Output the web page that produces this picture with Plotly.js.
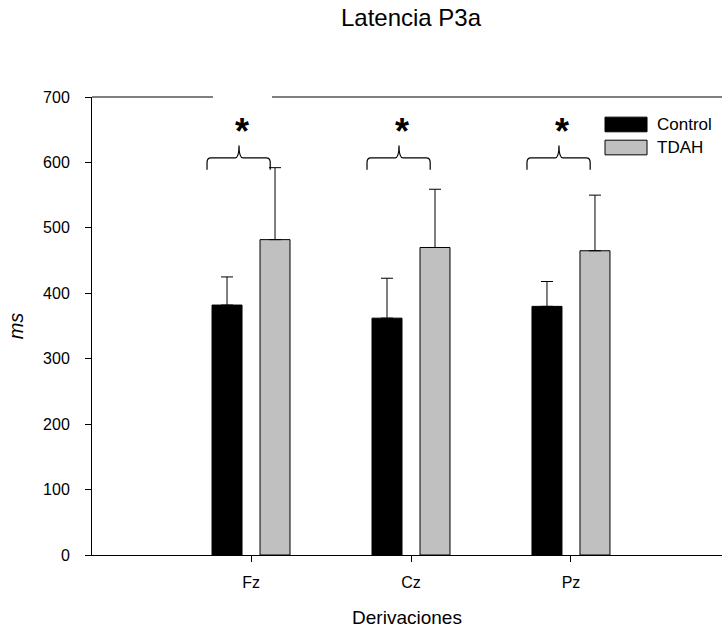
<!DOCTYPE html>
<html>
<head>
<meta charset="utf-8">
<script src="https://cdn.plot.ly/plotly-3.0.1.min.js"></script>
<style>
  html, body { margin: 0; padding: 0; background: #fff; overflow: hidden; }
  #chart { width: 722px; height: 634px; }
</style>
</head>
<body>
<div id="chart"></div>
<script>
// ---- Data ----
const categories = ['Fz', 'Cz', 'Pz'];
const seriesNames = ['Control', 'TDAH'];
const controlMeans = [382, 362, 380];
const controlErr = [43, 61, 38];
const tdahMeans = [482, 470, 465];
const tdahErr = [110, 89, 85];
const yTickVals = [0, 100, 200, 300, 400, 500, 600, 700];
const significant = [true, true, true];

// ---- Styling ----
const FONT = 'Liberation Sans, Arial, sans-serif';
const colors = ['#000000', '#c0c0c0'];

function barTrace(name, y, err, color) {
  return {
    type: 'bar',
    name: name,
    x: categories,
    y: y,
    marker: { color: color, line: { color: '#000', width: 1 } },
    error_y: {
      type: 'data', symmetric: false, array: err,
      arrayminus: err.map(() => 0),
      color: '#000', thickness: 1, width: 6
    },
    hoverinfo: 'x+y+name'
  };
}

const traces = [
  barTrace(seriesNames[0], controlMeans, controlErr, colors[0]),
  barTrace(seriesNames[1], tdahMeans, tdahErr, colors[1])
];

// significance braces (annotation marks), placed per category index
const braceEnd = 589, braceMid = 607, bracePeak = 626, starY = 647;
const shapes = [];
const annotations = [];
categories.forEach((c, i) => {
  if (!significant[i]) return;
  const xl = i - 0.275, xr = i + 0.12, xc = i - 0.075;
  const dx = 0.025, dy = 7;
  const p = `M${xl},${braceEnd} L${xl},${braceMid - dy} Q${xl},${braceMid} ${xl + dx},${braceMid}` +
            ` L${xc - dx},${braceMid} Q${xc},${braceMid} ${xc},${bracePeak}` +
            ` Q${xc},${braceMid} ${xc + dx},${braceMid} L${xr - dx},${braceMid}` +
            ` Q${xr},${braceMid} ${xr},${braceMid - dy} L${xr},${braceEnd}`;
  shapes.push({ type: 'path', xref: 'x', yref: 'y', path: p, line: { color: '#000', width: 1.2 } });
  annotations.push({
    x: xc + 0.02, y: starY, xref: 'x', yref: 'y', text: '<b>*</b>', showarrow: false,
    font: { family: FONT, size: 36, color: '#000' }, xanchor: 'center', yanchor: 'middle'
  });
});

// broken top frame line
shapes.push({ type: 'line', xref: 'paper', yref: 'paper', x0: 0, x1: 0.192, y0: 1, y1: 1, line: { color: '#000', width: 1 } });
shapes.push({ type: 'line', xref: 'paper', yref: 'paper', x0: 0.2857, x1: 1, y0: 1, y1: 1, line: { color: '#000', width: 1 } });

// custom legend (wide swatches like the reference)
const legendRows = [0.94, 0.8897];
seriesNames.forEach((n, k) => {
  shapes.push({
    type: 'rect', xref: 'paper', yref: 'paper',
    x0: 0.8143, x1: 0.881, y0: legendRows[k] - 0.016, y1: legendRows[k] + 0.016,
    fillcolor: colors[k], line: { color: '#000', width: 1 }
  });
  annotations.push({
    x: 0.893, y: legendRows[k], xref: 'paper', yref: 'paper', text: n, showarrow: false,
    xanchor: 'left', yanchor: 'middle', font: { family: FONT, size: 17, color: '#000' }
  });
});

const layout = {
  width: 722, height: 634,
  margin: { l: 92, r: 0, t: 97, b: 79, pad: 0 },
  paper_bgcolor: '#fff', plot_bgcolor: '#fff',
  font: { family: FONT, color: '#000' },
  showlegend: false,
  barmode: 'group', bargap: 0.4, bargroupgap: 0.375,
  title: {
    text: 'Latencia P3a', font: { family: FONT, size: 24, color: '#000' },
    xref: 'container', yref: 'container', x: 411 / 722, xanchor: 'center',
    y: 1 - 18 / 634, yanchor: 'middle'
  },
  xaxis: {
    type: 'category', range: [-0.994, 2.944],
    showline: true, linecolor: '#000', linewidth: 1,
    ticks: 'outside', ticklen: 6, tickcolor: '#000', tickwidth: 1,
    ticklabelstandoff: 7,
    tickfont: { family: FONT, size: 16, color: '#000' },
    showgrid: false, zeroline: false, fixedrange: true,
    title: { text: 'Derivaciones', font: { family: FONT, size: 19, color: '#000' }, standoff: 20 }
  },
  yaxis: {
    range: [0, 700], tickvals: yTickVals,
    showline: true, linecolor: '#000', linewidth: 1,
    ticks: 'outside', ticklen: 6, tickcolor: '#000', tickwidth: 1,
    ticklabelstandoff: 12,
    tickfont: { family: FONT, size: 16, color: '#000' },
    showgrid: false, zeroline: false, fixedrange: true,
    title: { text: '<i>ms</i>', font: { family: FONT, size: 20, color: '#000' }, standoff: 14 }
  },
  shapes: shapes,
  annotations: annotations
};

Plotly.newPlot('chart', traces, layout, { displayModeBar: false, staticPlot: true });
</script>
</body>
</html>
